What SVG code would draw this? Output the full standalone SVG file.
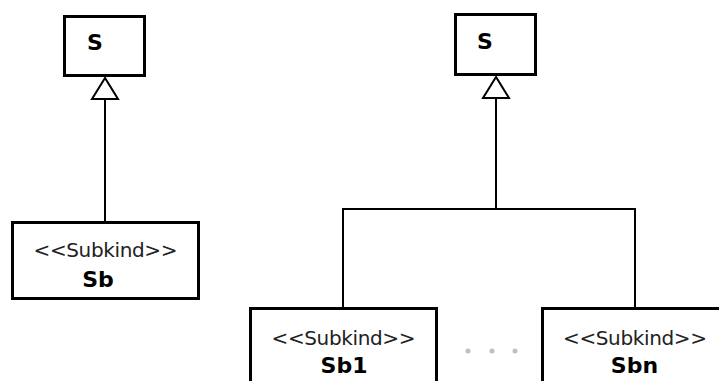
<svg xmlns="http://www.w3.org/2000/svg" width="719" height="381" viewBox="0 0 719 381">
<style>
.box{fill:#fff;stroke:#000;stroke-width:3}
.st{font-family:"DejaVu Sans",sans-serif;font-size:20px;fill:#222;text-anchor:middle}
.nm{font-family:"DejaVu Sans",sans-serif;font-size:22px;font-weight:bold;fill:#000}
.ln{fill:none;stroke:#000;stroke-width:2}
.tri{fill:#fff;stroke:#000;stroke-width:2;stroke-linejoin:miter}
.dot{fill:#c0c0c0}
</style>
<rect width="719" height="381" fill="#fff"/>
<g id="connectors">
<line class="ln" x1="105" y1="98" x2="105" y2="222"/>
<polygon class="tri" points="105,78 92,99 118,99"/>
<line class="ln" x1="496" y1="97" x2="496" y2="209"/>
<polyline class="ln" points="343,308 343,209 635,209 635,308"/>
<polygon class="tri" points="496,77 483,98 509,98"/>
</g>
<g id="S-left">
<rect class="box" x="64.5" y="16.5" width="80" height="59"/>
<text class="nm" x="87" y="50">S</text>
</g>
<g id="Sb">
<rect class="box" x="12.5" y="222.5" width="186" height="76"/>
<text class="st" x="105.5" y="257" textLength="144">&lt;&lt;Subkind&gt;&gt;</text>
<text class="nm" x="98" y="287" text-anchor="middle">Sb</text>
</g>
<g id="S-right">
<rect class="box" x="455.5" y="14.5" width="80" height="60"/>
<text class="nm" x="477" y="49">S</text>
</g>
<g id="Sb1">
<rect class="box" x="250.5" y="308.5" width="186" height="80"/>
<text class="st" x="343.5" y="345" textLength="144">&lt;&lt;Subkind&gt;&gt;</text>
<text class="nm" x="344" y="373" text-anchor="middle">Sb1</text>
</g>
<g id="dots">
<circle class="dot" cx="468" cy="351" r="2.5"/>
<circle class="dot" cx="492" cy="351" r="2.5"/>
<circle class="dot" cx="515" cy="351" r="2.5"/>
</g>
<g id="Sbn">
<rect class="box" x="542.5" y="308.5" width="186" height="80"/>
<text class="st" x="635" y="345" textLength="144">&lt;&lt;Subkind&gt;&gt;</text>
<text class="nm" x="634.5" y="373" text-anchor="middle">Sbn</text>
</g>
</svg>
